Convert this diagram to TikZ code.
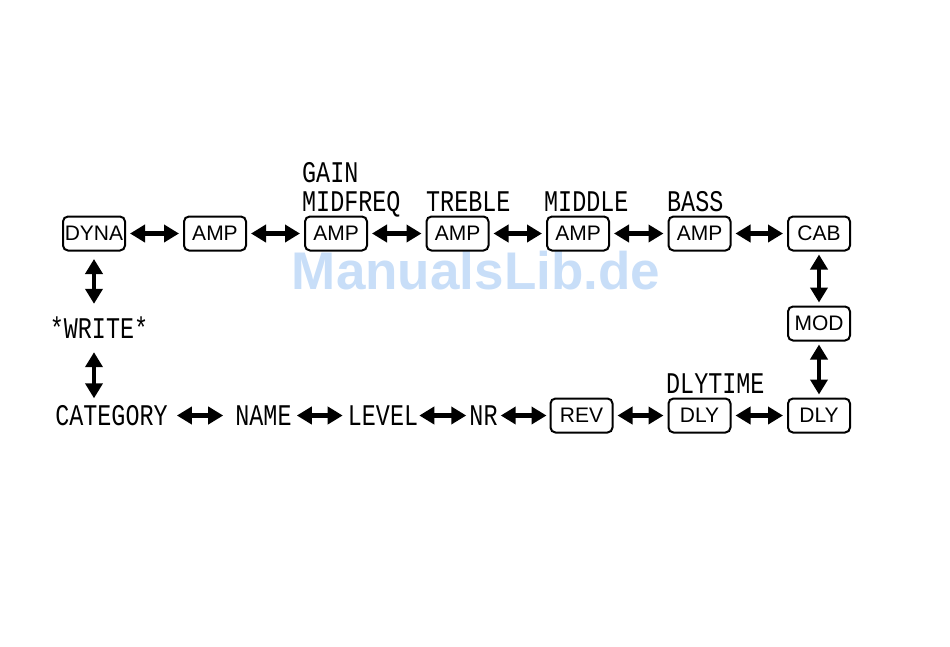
\documentclass[tikz,border=0pt]{standalone}
\usepackage{fontspec}
\setmainfont{Liberation Sans}
\newfontfamily\lcd[FakeStretch=0.78]{Liberation Mono}
\newfontfamily\wmfont{Liberation Sans}
\usetikzlibrary{arrows.meta}
\definecolor{wmblue}{RGB}{200,222,248}
\tikzset{
  box/.style={draw, line width=2pt, rounded corners=5pt, minimum width=62pt, minimum height=34pt,
    inner sep=0pt, font=\fontsize{21}{21}\selectfont, text height=14.5pt, text depth=0pt},
  lcdtext/.style={inner sep=0pt, font=\lcd\fontsize{30}{30}\selectfont, text height=20pt, text depth=0pt},
  dbl/.style={line width=4.5pt, {Triangle[length=15pt,width=17pt]}-{Triangle[length=15pt,width=17pt]}},
}
\begin{document}
\begin{tikzpicture}[x=1pt,y=-1pt]
\useasboundingbox (0,0) rectangle (950,646);
% watermark
\node[text=wmblue, font=\wmfont\bfseries\fontsize{53}{53}\selectfont, inner sep=0pt] (wm) at (476,271) {ManualsLib.de};
% top row boxes
\node[box] (dyna) at (94,233.5) {DYNA};
\node[box] (amp1) at (215,233.5) {AMP};
\node[box] (amp2) at (336,233.5) {AMP};
\node[box] (amp3) at (457.5,233.5) {AMP};
\node[box] (amp4) at (578,233.5) {AMP};
\node[box] (amp5) at (699.5,233.5) {AMP};
\node[box] (cab) at (819,233.5) {CAB};
\node[box] (mod) at (819,323.5) {MOD};
\node[box] (dly2) at (819,415.5) {DLY};
\node[box] (dly1) at (699.5,415.5) {DLY};
\node[box] (rev) at (581.5,415.5) {REV};
% lcd labels
\node[lcdtext, anchor=west] (gain) at (302,172) {GAIN};
\node[lcdtext, anchor=west] (midfreq) at (302,201) {MIDFREQ};
\node[lcdtext, anchor=west] (treble) at (426,201) {TREBLE};
\node[lcdtext, anchor=west] (middle) at (544,201) {MIDDLE};
\node[lcdtext, anchor=west] (bass) at (667,201) {BASS};
\node[lcdtext, anchor=west] (dlytime) at (666,383) {DLYTIME};
\node[lcdtext] (write) at (99,328) {*WRITE*};
\node[lcdtext] (category) at (111.5,415.5) {CATEGORY};
\node[lcdtext] (name) at (263.5,415.5) {NAME};
\node[lcdtext] (level) at (383,415.5) {LEVEL};
\node[lcdtext] (nr) at (483.5,415.5) {NR};
% arrows top row
\draw[dbl, shorten <=4pt, shorten >=4pt] (dyna.east) -- (amp1.west);
\draw[dbl, shorten <=4pt, shorten >=4pt] (amp1.east) -- (amp2.west);
\draw[dbl, shorten <=4pt, shorten >=4pt] (amp2.east) -- (amp3.west);
\draw[dbl, shorten <=4pt, shorten >=4pt] (amp3.east) -- (amp4.west);
\draw[dbl, shorten <=4pt, shorten >=4pt] (amp4.east) -- (amp5.west);
\draw[dbl, shorten <=4pt, shorten >=4pt] (amp5.east) -- (cab.west);
% right column
\draw[dbl, shorten <=3pt, shorten >=3pt] (cab.south) -- (mod.north);
\draw[dbl, shorten <=3pt, shorten >=3pt] (mod.south) -- (dly2.north);
% bottom row
\draw[dbl, shorten <=4pt, shorten >=4pt] (dly2.west) -- (dly1.east);
\draw[dbl, shorten <=4pt, shorten >=4pt] (dly1.west) -- (rev.east);
\draw[dbl, shorten <=3pt, shorten >=3pt] (rev.west) -- (nr.east);
\draw[dbl, shorten <=3pt, shorten >=1pt] (nr.west) -- (level.east);
\draw[dbl, shorten <=5pt, shorten >=5pt] (level.west) -- (name.east);
\draw[dbl, shorten <=12pt, shorten >=9pt] (name.west) -- (category.east);
% left column
\draw[dbl, shorten <=7.5pt, shorten >=14pt] (dyna.south) -- (write.north -| dyna.south);
\draw[dbl, shorten <=14pt, shorten >=7pt] (write.south -| dyna.south) -- (category.north -| dyna.south);
\end{tikzpicture}
\end{document}
